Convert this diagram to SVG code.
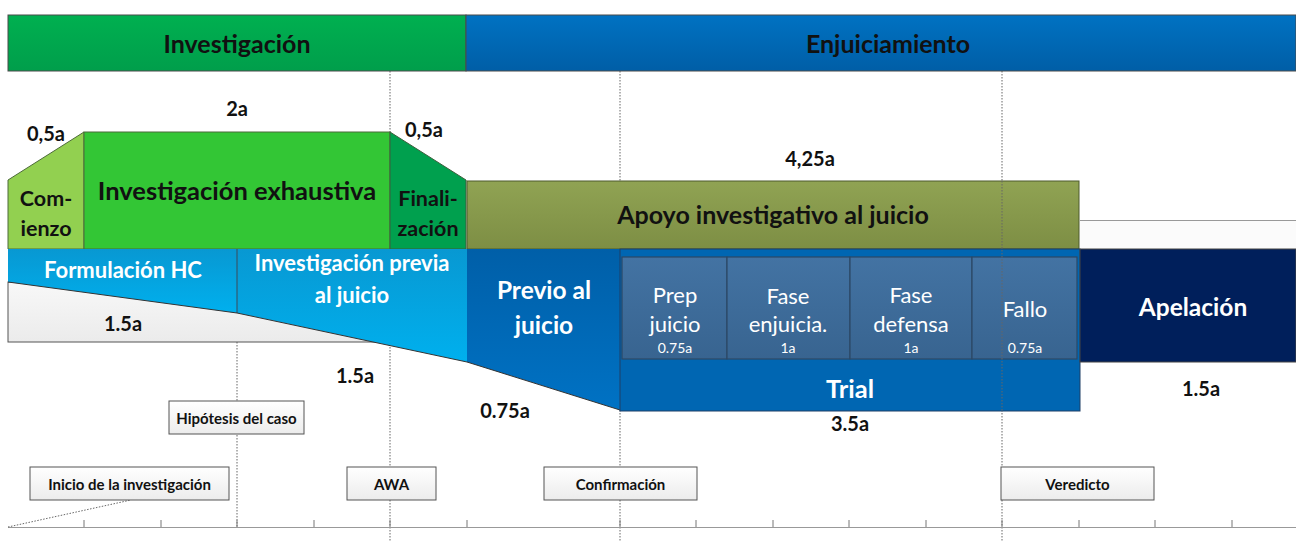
<svg xmlns="http://www.w3.org/2000/svg" width="1296" height="541" viewBox="0 0 1296 541">
<defs>
<linearGradient id="gInv" x1="0" y1="0" x2="0" y2="1"><stop offset="0" stop-color="#00b050"/><stop offset="1" stop-color="#009e4b"/></linearGradient>
<linearGradient id="gEnj" x1="0" y1="0" x2="0" y2="1"><stop offset="0" stop-color="#0072c2"/><stop offset="1" stop-color="#005ea6"/></linearGradient>
<linearGradient id="gApo" x1="0" y1="0" x2="0" y2="1"><stop offset="0" stop-color="#90a353"/><stop offset="1" stop-color="#7d8e44"/></linearGradient>
<linearGradient id="gCyan" x1="0" y1="0" x2="0" y2="1"><stop offset="0" stop-color="#0898d2"/><stop offset="1" stop-color="#00b0ee"/></linearGradient>
<linearGradient id="gPrev" x1="0" y1="0" x2="0" y2="1"><stop offset="0" stop-color="#005fa8"/><stop offset="1" stop-color="#0072c4"/></linearGradient>
<linearGradient id="gSub" x1="0" y1="0" x2="0" y2="1"><stop offset="0" stop-color="#4373a3"/><stop offset="1" stop-color="#386490"/></linearGradient>
<linearGradient id="gBox" x1="0" y1="0" x2="0" y2="1"><stop offset="0" stop-color="#ffffff"/><stop offset="1" stop-color="#ececec"/></linearGradient>
<linearGradient id="gGray" x1="0" y1="0" x2="0" y2="1"><stop offset="0" stop-color="#f8f8f8"/><stop offset="1" stop-color="#ebebeb"/></linearGradient>
</defs>
<style>
text{font-family:Lato,"Open Sans","Liberation Sans",sans-serif;text-anchor:middle;dominant-baseline:central}
.b{font-weight:bold}
.dk{fill:#111}
.wt{fill:#fff}
.lbl{font-weight:bold;font-size:20px;fill:#111}
.box{fill:url(#gBox);stroke:#555;stroke-width:1}
.bt{font-weight:bold;font-size:15px;fill:#111}
.dot{stroke:#666;stroke-width:1;stroke-dasharray:1.5 1.5;fill:none}
.sub{fill:url(#gSub);stroke:#2c4866;stroke-width:1.2}
.st{font-size:22px;fill:#fff}
.sm{font-size:14px;fill:#fff}
.tick{stroke:#777;stroke-width:1}
</style>
<rect width="1296" height="541" fill="#fff"/>

<g id="guides">
<line class="dot" x1="390" y1="71" x2="390" y2="541"/>
<line class="dot" x1="620" y1="71" x2="620" y2="541"/>
<line class="dot" x1="1002" y1="71" x2="1002" y2="541"/>
<line class="dot" x1="237" y1="249" x2="237" y2="527"/>
</g>

<g id="banner-investigacion">
<rect x="8" y="15" width="458" height="56" fill="url(#gInv)" stroke="#4a4a4a" stroke-width="1"/>
<text x="237" y="43" class="b dk" font-size="25">Investigación</text>
</g>
<g id="banner-enjuiciamiento">
<rect x="466" y="15" width="830" height="56" fill="url(#gEnj)" stroke="#4a4a4a" stroke-width="1"/>
<text x="888" y="43" class="b dk" font-size="25">Enjuiciamiento</text>
</g>

<g id="comienzo">
<polygon points="8,180 84,132 84,249 8,249" fill="#92d050" stroke="#4d6b3a" stroke-width="1"/>
<text x="46" y="198" class="b dk" font-size="21.5">Com-</text>
<text x="46" y="228" class="b dk" font-size="21.5">ienzo</text>
</g>
<g id="inv-exhaustiva">
<rect x="84" y="132" width="306" height="117" fill="#33c635" stroke="#4d6b3a" stroke-width="1"/>
<text x="237" y="190" class="b dk" font-size="25.5">Investigación exhaustiva</text>
</g>
<g id="finalizacion">
<polygon points="390,132 466,180 466,249 390,249" fill="#00a04e" stroke="#3d5f3d" stroke-width="1"/>
<text x="428" y="198" class="b dk" font-size="21.5">Finali-</text>
<text x="428" y="228" class="b dk" font-size="21.5">zación</text>
</g>

<g id="apoyo">
<rect x="1080" y="220" width="216" height="29" fill="#fbfbfb"/>
<line x1="1080" y1="220.5" x2="1296" y2="220.5" stroke="#999" stroke-width="1"/>
<rect x="467" y="181" width="612" height="68" fill="url(#gApo)" stroke="#4d5a2c" stroke-width="1"/>
<text x="773" y="214" class="b dk" font-size="25">Apoyo investigativo al juicio</text>
</g>

<g id="gray-box">
<rect x="8" y="282" width="382" height="60" fill="url(#gGray)" stroke="#555" stroke-width="1"/>
</g>

<g id="formulacion-hc">
<polygon points="8,249 237,249 237,313 8,282" fill="url(#gCyan)"/>
<text x="123" y="269" class="b wt" font-size="22">Formulación HC</text>
</g>
<g id="inv-previa">
<polygon points="237,249 467,249 467,362 237,313" fill="url(#gCyan)"/>
<line x1="237" y1="249" x2="237" y2="313" stroke="#3a4a5a" stroke-width="1"/>
<text x="352" y="262" class="b wt" font-size="22">Investigación previa</text>
<text x="352" y="294" class="b wt" font-size="22">al juicio</text>
</g>
<g id="previo-juicio">
<polygon points="467,249 620,249 620,410 467,362" fill="url(#gPrev)"/>
<text x="544" y="289" class="b wt" font-size="24.5">Previo al</text>
<text x="544" y="324" class="b wt" font-size="24.5">juicio</text>
</g>
<polyline points="8,282 237,313 467,362 620,410" fill="none" stroke="#333" stroke-width="1"/>

<g id="trial">
<rect x="620" y="249" width="460" height="162" fill="#0066b2" stroke="#1f3f66" stroke-width="1"/>
<text x="850" y="388" class="b wt" font-size="25.5">Trial</text>
</g>
<g id="prep-juicio">
<rect class="sub" x="622" y="257" width="105" height="102"/>
<text x="675" y="294" class="st">Prep</text>
<text x="675" y="323" class="st">juicio</text>
<text x="675" y="347" class="sm">0.75a</text>
</g>
<g id="fase-enjuicia">
<rect class="sub" x="727" y="257" width="123" height="102"/>
<text x="788" y="295" class="st" font-size="18">Fase</text>
<text x="788" y="323" class="st" font-size="18">enjuicia.</text>
<text x="788" y="347" class="sm">1a</text>
</g>
<g id="fase-defensa">
<rect class="sub" x="850" y="257" width="122" height="102"/>
<text x="911" y="294" class="st">Fase</text>
<text x="911" y="323" class="st">defensa</text>
<text x="911" y="347" class="sm">1a</text>
</g>
<g id="fallo">
<rect class="sub" x="972" y="257" width="105" height="102"/>
<text x="1025" y="308" class="st">Fallo</text>
<text x="1025" y="347" class="sm">0.75a</text>
</g>
<line class="dot" x1="1002" y1="181" x2="1002" y2="411"/>

<g id="apelacion">
<rect x="1080" y="249" width="216" height="113" fill="#001f5b" stroke="#444" stroke-width="1"/>
<text x="1193" y="306" class="b wt" font-size="24.5">Apelación</text>
</g>

<g id="durations">
<text x="46" y="133" class="lbl">0,5a</text>
<text x="237" y="108" class="lbl">2a</text>
<text x="424" y="129" class="lbl">0,5a</text>
<text x="810" y="158" class="lbl">4,25a</text>
<text x="123" y="323" class="lbl">1.5a</text>
<text x="355" y="375" class="lbl">1.5a</text>
<text x="505" y="410" class="lbl">0.75a</text>
<text x="850" y="423" class="lbl">3.5a</text>
<text x="1201" y="388" class="lbl">1.5a</text>
</g>

<g id="timeline">
<line x1="8" y1="527.5" x2="1296" y2="527.5" stroke="#999" stroke-width="1.2"/>
<path class="tick" d="M84,520V527M161,520V527M237,520V527M314,520V527M390,520V527M467,520V527M620,520V527M696,520V527M773,520V527M849,520V527M926,520V527M1002,520V527M1079,520V527M1155,520V527M1232,520V527"/>
<line class="dot" x1="8" y1="527" x2="131" y2="500"/>
</g>

<g id="hipotesis">
<rect class="box" x="169" y="401" width="135" height="33"/>
<text x="236.5" y="418" class="bt">Hipótesis del caso</text>
</g>
<g id="inicio">
<rect class="box" x="30" y="467" width="199" height="33"/>
<text x="129.5" y="484" class="bt">Inicio de la investigación</text>
</g>
<g id="awa">
<rect class="box" x="347" y="467" width="89" height="33"/>
<text x="391.5" y="484" class="bt">AWA</text>
</g>
<g id="confirmacion">
<rect class="box" x="544" y="467" width="153" height="33"/>
<text x="620.5" y="484" class="bt">Confirmación</text>
</g>
<g id="veredicto">
<rect class="box" x="1001" y="467" width="153" height="33"/>
<text x="1077.5" y="484" class="bt">Veredicto</text>
</g>
</svg>
